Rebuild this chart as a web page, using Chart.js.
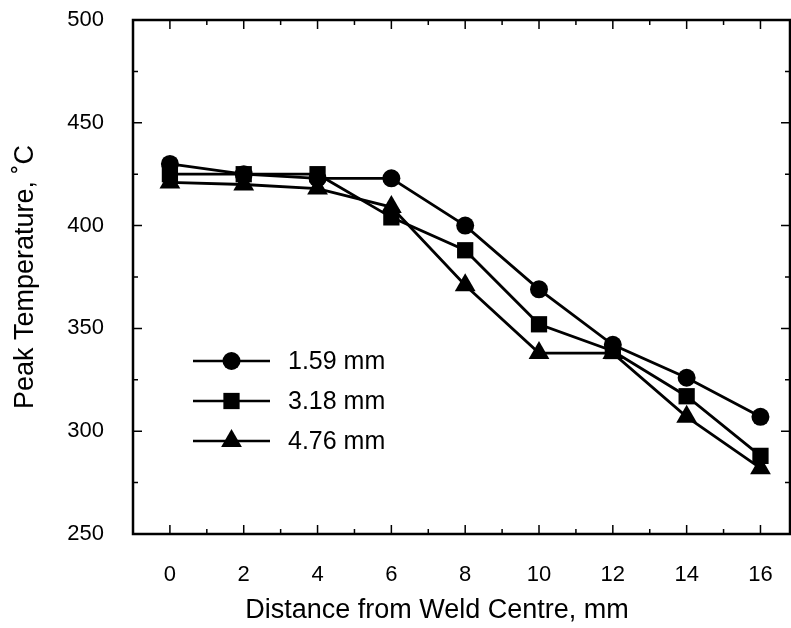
<html>
<head>
    <style>
        body { margin: 0; background: #fff; overflow: hidden; }
        .wrap { width: 791px; height: 628px; overflow: hidden; }
    </style>
    <script src="https://cdn.jsdelivr.net/npm/chart.js@4.4.1/dist/chart.umd.min.js"></script>
</head>
<body>
    <!-- canvas a bit wider than the page: chart.js keeps room for the last x label on the right -->
    <div class="wrap"><canvas id="canvas" width="802" height="628"></canvas></div>
    <script>
        // distance from weld centre, mm
        var distances = [0, 2, 4, 6, 8, 10, 12, 14, 16];
        var seriesNames = ['1.59 mm', '3.18 mm', '4.76 mm'];
        var temp159 = [430, 425, 423, 423, 400, 369, 342, 326, 307];
        var temp318 = [425, 425, 425, 404, 388, 352, 339, 317, 288];
        var temp476 = [421, 420, 418, 409, 371, 338, 338, 307, 282];
        var xTicks = [0, 2, 4, 6, 8, 10, 12, 14, 16];
        var yTicks = [250, 300, 350, 400, 450, 500];
        var xTitle = 'Distance from Weld Centre, mm';
        var yTitle = 'Peak Temperature, ˚C';

        function pts(ys) {
            return distances.map(function (d, i) { return { x: d, y: ys[i] }; });
        }

        var font = "'Liberation Sans', Arial, sans-serif";

        // frame on four sides + inward ticks
        var framePlugin = {
            id: 'frame',
            afterDatasetsDraw: function (chart) {
                var ctx = chart.ctx, a = chart.chartArea;
                var xs = chart.scales.x, ys = chart.scales.y;
                ctx.save();
                ctx.strokeStyle = '#000';
                ctx.lineWidth = 1.5;
                ctx.beginPath();
                for (var v = 0; v <= 16; v += 1) {
                    var px = xs.getPixelForValue(v);
                    var len = v % 2 === 0 ? 9 : 5;
                    ctx.moveTo(px, a.bottom); ctx.lineTo(px, a.bottom - len);
                    ctx.moveTo(px, a.top); ctx.lineTo(px, a.top + len);
                }
                for (var t = 250; t <= 500; t += 25) {
                    var py = ys.getPixelForValue(t);
                    var l2 = t % 50 === 0 ? 9 : 5;
                    ctx.moveTo(a.left, py); ctx.lineTo(a.left + l2, py);
                    ctx.moveTo(a.right, py); ctx.lineTo(a.right - l2, py);
                }
                ctx.stroke();
                ctx.lineWidth = 2.5;
                ctx.strokeRect(a.left, a.top, a.right - a.left, a.bottom - a.top);

                // x title sits a little left of the plot centre in the original
                ctx.fillStyle = '#000';
                ctx.font = '27px ' + font;
                ctx.textAlign = 'center';
                ctx.textBaseline = 'middle';
                ctx.fillText(xTitle, a.left + 304, a.bottom + 77);
                ctx.restore();
            }
        };

        // legend inside plot: line through marker
        var legendPlugin = {
            id: 'innerLegend',
            afterDatasetsDraw: function (chart) {
                var ctx = chart.ctx;
                var x0 = 193, x1 = 270, ty = 361, gap = 40;
                ctx.save();
                chart.data.datasets.forEach(function (ds, i) {
                    var y = ty + i * gap;
                    ctx.strokeStyle = '#000';
                    ctx.lineWidth = 2.5;
                    ctx.beginPath();
                    ctx.moveTo(x0, y); ctx.lineTo(x1, y);
                    ctx.stroke();
                    ctx.fillStyle = '#000';
                    Chart.helpers.drawPoint(ctx, {
                        pointStyle: ds.pointStyle,
                        radius: ds.pointRadius,
                        borderWidth: 0
                    }, (x0 + x1) / 2, y);
                    ctx.fillStyle = '#000';
                    ctx.font = '25px ' + font;
                    ctx.textBaseline = 'middle';
                    ctx.fillText(ds.label, 288, y + 1);
                });
                ctx.restore();
            }
        };

        function makeSet(label, ys, style, r) {
            return {
                label: label,
                data: pts(ys),
                borderColor: '#000',
                backgroundColor: '#000',
                borderWidth: 2.8,
                pointStyle: style,
                pointRadius: r,
                pointHoverRadius: r,
                pointBorderWidth: 0,
                pointBackgroundColor: '#000',
                tension: 0
            };
        }

        new Chart(document.getElementById('canvas').getContext('2d'), {
            type: 'line',
            data: {
                datasets: [
                    makeSet(seriesNames[0], temp159, 'circle', 9),
                    makeSet(seriesNames[1], temp318, 'rect', 11.5),
                    makeSet(seriesNames[2], temp476, 'triangle', 12)
                ]
            },
            options: {
                responsive: false,
                animation: false,
                layout: { padding: { top: 20, right: 1, left: 0, bottom: 0 } },
                plugins: { legend: { display: false }, tooltip: { enabled: false } },
                scales: {
                    x: {
                        type: 'linear',
                        min: -1,
                        max: 16.8,
                        grid: { display: false },
                        border: { display: false },
                        afterBuildTicks: function (s) { s.ticks = xTicks.map(function (v) { return { value: v }; }); },
                        afterFit: function (s) { s.height = 94; },
                        ticks: { color: '#000', padding: 20, font: { family: font, size: 22 } }
                    },
                    y: {
                        min: 250,
                        max: 500,
                        grid: { display: false },
                        border: { display: false },
                        afterBuildTicks: function (s) { s.ticks = yTicks.map(function (v) { return { value: v }; }); },
                        afterFit: function (s) { s.width = 133; s.paddingTop = 0; s.paddingBottom = 0; },
                        ticks: { color: '#000', padding: 21, font: { family: font, size: 22 } },
                        title: { display: true, text: yTitle, color: '#000', padding: { top: 9, bottom: 0 }, font: { family: font, size: 27 } }
                    }
                }
            },
            plugins: [framePlugin, legendPlugin]
        });
    </script>
</body>
</html>
